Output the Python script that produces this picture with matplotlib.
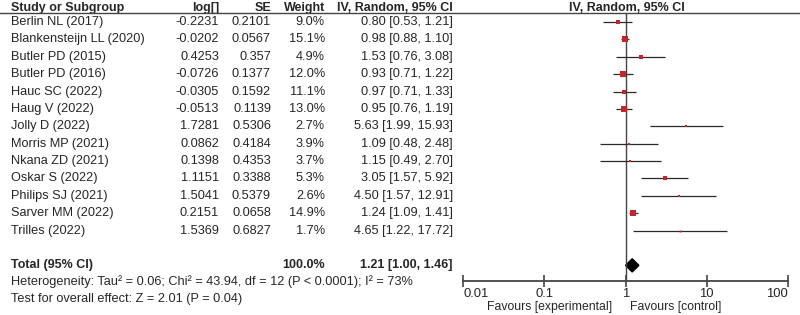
import numpy as np
import matplotlib.pyplot as plt
from matplotlib.transforms import blended_transform_factory

studies = ["Berlin NL (2017)", "Blankensteijn LL (2020)", "Butler PD (2015)",
           "Butler PD (2016)", "Hauc SC (2022)", "Haug V (2022)", "Jolly D (2022)",
           "Morris MP (2021)", "Nkana ZD (2021)", "Oskar S (2022)",
           "Philips SJ (2021)", "Sarver MM (2022)", "Trilles (2022)"]
log_est = ["-0.2231", "-0.0202", "0.4253", "-0.0726", "-0.0305", "-0.0513", "1.7281",
           "0.0862", "0.1398", "1.1151", "1.5041", "0.2151", "1.5369"]
se = ["0.2101", "0.0567", "0.357", "0.1377", "0.1592", "0.1139", "0.5306",
      "0.4184", "0.4353", "0.3388", "0.5379", "0.0658", "0.6827"]
weight = [9.0, 15.1, 4.9, 12.0, 11.1, 13.0, 2.7, 3.9, 3.7, 5.3, 2.6, 14.9, 1.7]
est = [0.80, 0.98, 1.53, 0.93, 0.97, 0.95, 5.63, 1.09, 1.15, 3.05, 4.50, 1.24, 4.65]
lo = [0.53, 0.88, 0.76, 0.71, 0.71, 0.76, 1.99, 0.48, 0.49, 1.57, 1.57, 1.09, 1.22]
hi = [1.21, 1.10, 3.08, 1.22, 1.33, 1.19, 15.93, 2.48, 2.70, 5.92, 12.91, 1.41, 17.72]
total = (1.21, 1.00, 1.46)
total_weight = "100.0%"
het_text = "Heterogeneity: Tau\u00b2 = 0.06; Chi\u00b2 = 43.94, df = 12 (P < 0.0001); I\u00b2 = 73%"
test_text = "Test for overall effect: Z = 2.01 (P = 0.04)"
ticks = [0.01, 0.1, 1, 10, 100]
tick_labels = ["0.01", "0.1", "1", "10", "100"]

plt.rcParams['font.family'] = ['Liberation Sans', 'DejaVu Sans']
plt.rcParams['font.size'] = 9.2
txt_color = "#262626"
bold_size = 9.0

W, H = 800, 315
fig = plt.figure(figsize=(8, 3.15), dpi=100)
ax = fig.add_axes([463 / W, 1 - 281 / H, (788 - 463) / W, (281 - 13) / H])
ax.set_xscale("log")
ax.set_xlim(0.01, 100)
ax.set_ylim(14.9, -0.52)
ax.patch.set_visible(False)
for s in ["top", "left", "right"]:
    ax.spines[s].set_visible(False)
ax.spines["bottom"].set_color("#444444")
ax.spines["bottom"].set_linewidth(1.3)
ax.set_yticks([])
ax.set_xticks(ticks)
ax.set_xticklabels(tick_labels)
ax.minorticks_off()
ax.tick_params(axis="x", direction="inout", length=8, width=1.2, color="#444444",
               labelsize=9.4, labelcolor=txt_color, pad=1)
tl_list = ax.get_xticklabels()
tl_list[0].set_horizontalalignment("left")
tl_list[-1].set_horizontalalignment("right")

ax.axvline(1, color="#444444", lw=1.0)

rows = np.arange(len(studies))
for i in rows:
    ax.plot([lo[i], hi[i]], [i, i], color="#2a2a2a", lw=0.9, solid_capstyle="butt")
    ax.plot(est[i], i, marker="s", color="#c4262b", markersize=np.sqrt(weight[i]) * 1.05,
            markeredgewidth=0)

t_row = 14
tx, tl, th = total
ax.fill([tl, tx, th, tx], [t_row, t_row - 0.38, t_row, t_row + 0.38], color="black")

# table text
tr = blended_transform_factory(fig.transFigure, ax.transData)
hdr = -0.81


def col(x, y, s, ha="left", bold=False):
    ax.text(x / W, y, s, transform=tr, ha=ha, va="center", color=txt_color,
            fontweight="bold" if bold else "normal",
            fontsize=bold_size if bold else None, clip_on=False)


col(11, hdr, "Study or Subgroup", bold=True)
col(219, hdr, "log[]", ha="right", bold=True)
col(271, hdr, "SE", ha="right", bold=True)
col(325, hdr, "Weight", ha="right", bold=True)
col(453, hdr, "IV, Random, 95% CI", ha="right", bold=True)
col(627, hdr, "IV, Random, 95% CI", ha="center", bold=True)

for i in rows:
    col(11, i, studies[i])
    col(219, i, log_est[i], ha="right")
    col(271, i, se[i], ha="right")
    col(325, i, f"{weight[i]:.1f}%", ha="right")
    col(453, i, f"{est[i]:.2f} [{lo[i]:.2f}, {hi[i]:.2f}]", ha="right")

col(11, t_row, "Total (95% CI)", bold=True)
col(325, t_row, total_weight, ha="right", bold=True)
col(453, t_row, f"{tx:.2f} [{tl:.2f}, {th:.2f}]", ha="right", bold=True)
col(11, 14.95, het_text)
col(11, 15.93, test_text)

fig.add_artist(plt.Line2D([0, 1], [1 - 13 / H, 1 - 13 / H], color="#444444", lw=1.0,
                          transform=fig.transFigure))

fig.text(612 / W, 1 - 307 / H, "Favours [experimental]", ha="right", va="center",
         color=txt_color, fontsize=8.8)
fig.text(630 / W, 1 - 307 / H, "Favours [control]", ha="left", va="center",
         color=txt_color, fontsize=8.8)

fig.savefig("out.png", dpi=100, facecolor="white")
